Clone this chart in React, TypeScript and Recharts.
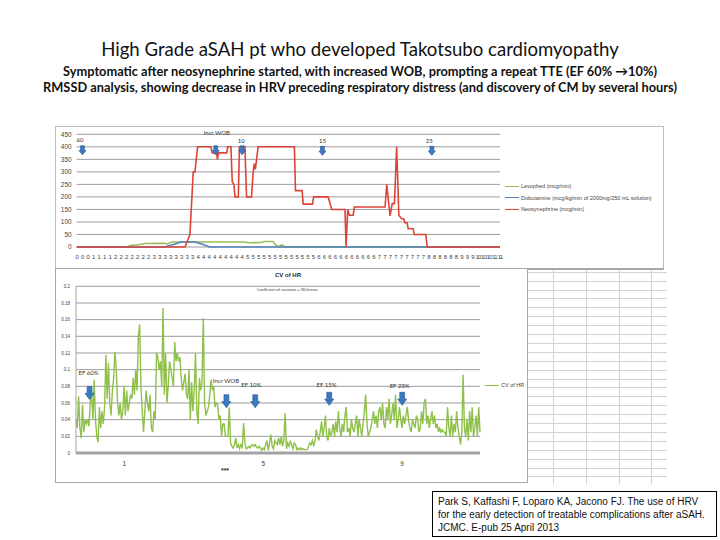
import React from "react";
import { LineChart, Line, XAxis, YAxis, CartesianGrid, ReferenceDot, Legend } from "recharts";

// top chart: drip rates, x = position along the category axis
const infusionLabels = [
  "0", "0", "0", "1", "1", "1", "1", "2", "2", "2", "2", "2", "2", "2",
  "3", "3", "3", "3", "3", "3", "3", "3", "4", "4", "4", "4", "4", "4", "4", "4", "4",
  "5", "5", "5", "5", "5", "5", "5", "5", "5", "5", "5", "5", "5",
  "6", "6", "6", "6", "6", "6", "6", "6", "6", "6", "6",
  "7", "7", "7", "7", "7", "7", "7", "7", "7",
  "8", "8", "8", "8", "8", "8", "9", "9", "9", "10", "10", "10", "11", "11",
];
const infusionTicks = [0, 50, 100, 150, 200, 250, 300, 350, 400, 450];

const levophed = [
  [0, 0], [9.2, 0], [9.7, 6], [10.5, 8], [11.5, 10], [12.4, 14], [15.9, 15], [16.5, 12],
  [17.3, 20], [30.6, 20], [31.2, 17], [33.6, 18], [34.2, 22], [35.7, 22], [36.3, 5],
  [36.8, 3], [37.3, 8], [37.8, 3], [38.2, 0], [77, 0],
];
const dobutamine = [
  [0, 0], [16, 0], [17.3, 8], [19, 20], [21.5, 20], [23, 10], [24.2, 0], [77, 0],
];
const neosynephrine = [
  [0, 0], [19.7, 0], [20.6, 50], [21.2, 300], [21.5, 300], [22, 400], [24.4, 400], [24.65, 376],
  [25.45, 376], [25.6, 350], [25.8, 376], [27.3, 376], [27.45, 400], [28.05, 400], [28.3, 260],
  [28.6, 250], [28.8, 200], [29.4, 200], [29.6, 400], [30.6, 400], [30.9, 200], [31.8, 200],
  [32.1, 300], [32.3, 333], [32.5, 310], [33, 400], [39.6, 400], [39.8, 225], [41, 225],
  [41.2, 171], [42.9, 171], [43.1, 200], [45.75, 200], [46.1, 173], [46.4, 150], [48.8, 150],
  [49, 0], [49.3, 150], [49.6, 127], [50.3, 127], [50.5, 160], [56.1, 160], [56.4, 250],
  [57, 124], [57.4, 173], [57.8, 173], [58.2, 400], [58.6, 127], [59.1, 113], [59.5, 113],
  [59.7, 97], [60.1, 97], [60.3, 73], [61.2, 73], [61.4, 50], [63.5, 50], [63.75, 0], [77, 0],
];
const infusionSeries = [
  { name: "Levophed (mcg/min)", color: "#9bbb59" },
  { name: "Dobutamine (mcg/kg/min of 2000mg/250 mL solution)", color: "#4f81bd" },
  { name: "Neosynephrine (mcg/min)", color: "#dd4438" },
];
const topMarks = [
  { at: 1.05, level: 386, label: "60" },
  { at: 25.3, level: 386, label: "Incr WOB" },
  { at: 30.1, level: 386, label: "10" },
  { at: 44.7, level: 384, label: "15" },
  { at: 64.6, level: 384, label: "25" },
];

// bottom chart: CV of HR, evenly sampled between these hours
const cvStartHour = -0.39;
const cvEndHour = 11.24;
const cvHR = [
  0.040, 0.030, 0.068, 0.030, 0.018, 0.058, 0.025, 0.040, 0.035, 0.040,
  0.032, 0.062, 0.070, 0.040, 0.088, 0.040, 0.020, 0.013, 0.055, 0.030,
  0.050, 0.035, 0.055, 0.118, 0.065, 0.108, 0.060, 0.045, 0.075, 0.090,
  0.121, 0.100, 0.060, 0.045, 0.060, 0.040, 0.050, 0.080, 0.045, 0.075,
  0.050, 0.060, 0.070, 0.065, 0.090, 0.070, 0.100, 0.075, 0.140, 0.154,
  0.080, 0.050, 0.025, 0.050, 0.075, 0.060, 0.050, 0.070, 0.030, 0.025,
  0.050, 0.040, 0.120, 0.115, 0.100, 0.110, 0.080, 0.174, 0.070, 0.120,
  0.060, 0.080, 0.110, 0.100, 0.090, 0.080, 0.133, 0.110, 0.120, 0.110,
  0.115, 0.090, 0.075, 0.085, 0.095, 0.070, 0.065, 0.100, 0.040, 0.085,
  0.050, 0.075, 0.120, 0.050, 0.035, 0.090, 0.075, 0.085, 0.162, 0.060,
  0.045, 0.050, 0.055, 0.070, 0.088, 0.075, 0.080, 0.055, 0.060, 0.058,
  0.040, 0.045, 0.020, 0.035, 0.035, 0.020, 0.020, 0.020, 0.055, 0.012,
  0.008, 0.006, 0.010, 0.018, 0.006, 0.010, 0.005, 0.010, 0.007, 0.036,
  0.012, 0.005, 0.006, 0.008, 0.006, 0.009, 0.010, 0.008, 0.010, 0.007,
  0.006, 0.008, 0.006, 0.003, 0.006, 0.004, 0.010, 0.015, 0.003, 0.012,
  0.022, 0.008, 0.005, 0.015, 0.012, 0.010, 0.018, 0.010, 0.020, 0.008,
  0.015, 0.048, 0.005, 0.012, 0.008, 0.014, 0.010, 0.005, 0.012, 0.010,
  0.004, 0.006, 0.004, 0.006, 0.004, 0.005, 0.004, 0.004,
  0.004, 0.008, 0.012, 0.010, 0.015, 0.008, 0.015, 0.028, 0.020, 0.015,
  0.025, 0.038, 0.020, 0.030, 0.045, 0.020, 0.015, 0.030, 0.020, 0.025,
  0.035, 0.020, 0.038, 0.025, 0.050, 0.030, 0.020, 0.035, 0.025, 0.045,
  0.055, 0.025, 0.030, 0.020, 0.040, 0.030, 0.025, 0.035, 0.045, 0.020,
  0.040, 0.030, 0.020, 0.035, 0.050, 0.070, 0.035, 0.020, 0.025, 0.030,
  0.040, 0.050, 0.035, 0.045, 0.030, 0.050, 0.055, 0.040, 0.060, 0.035,
  0.030, 0.055, 0.040, 0.065, 0.035, 0.045, 0.060, 0.040, 0.070, 0.030,
  0.040, 0.055, 0.040, 0.030, 0.045, 0.035, 0.045, 0.055, 0.040, 0.030,
  0.025, 0.040, 0.035, 0.030, 0.045, 0.040, 0.025, 0.030, 0.050, 0.035,
  0.060, 0.065, 0.035, 0.045, 0.030, 0.040, 0.050, 0.035, 0.045, 0.030,
  0.035, 0.025, 0.030, 0.025, 0.028, 0.025, 0.025, 0.020, 0.055, 0.030,
  0.020, 0.045, 0.020, 0.035, 0.025, 0.050, 0.030, 0.020, 0.010, 0.025,
  0.094, 0.030, 0.020, 0.040, 0.015, 0.050, 0.025, 0.055, 0.020, 0.030,
  0.045, 0.020, 0.055, 0.025,
];
const cvTicks = [0, 0.02, 0.04, 0.06, 0.08, 0.1, 0.12, 0.14, 0.16, 0.18, 0.2];
const cvHourTicks = [1, 5, 9];
const cvSeries = [{ name: "CV of HR", color: "#8fc04a" }];
const cvMarks = [
  { at: 0.0, level: 0.072, label: "EF 60%" },
  { at: 3.94, level: 0.062, label: "Incr WOB" },
  { at: 4.77, level: 0.062, label: "EF 10%" },
  { at: 6.9, level: 0.065, label: "EF 15%" },
  { at: 9.0, level: 0.065, label: "EF 25%" },
];
// label offsets (px) of the annotation arrows
const topMarkOffsets = [[-2.5, -11], [1, -18], [-1, -10], [0, -10], [-2.5, -10]];
const cvMarkOffsets = [[-1, -20.5], [-0.5, -20.5], [-4, -17], [-2.7, -14], [-2.5, -13]];

const GRID = "#9c9c9c";

function makeArrow(w: number, h: number, label: string, dx: number, dy: number, fs: number) {
  return (props: any) => {
    const { cx, cy } = props;
    if (cx == null || cy == null) return null;
    const shaft = w * 0.27;
    const head = h * 0.48;
    const top = cy - h / 2;
    const bot = cy + h / 2;
    const pts = [
      [cx - shaft, top], [cx + shaft, top], [cx + shaft, bot - head], [cx + w / 2, bot - head],
      [cx, bot], [cx - w / 2, bot - head], [cx - shaft, bot - head],
    ].map((p) => p.join(",")).join(" ");
    return (
      <g>
        <polygon points={pts} fill="#3d79c2" stroke="#2b5b97" strokeWidth={0.7} />
        <text x={cx + dx} y={cy + dy} textAnchor="middle" dominantBaseline="central"
          fontSize={fs} fill="#333" fontFamily="Lato, sans-serif">{label}</text>
      </g>
    );
  };
}

// legend rows drawn in series order
const legendBox = (items: { name: string; color: string }[], rowH: number) => () => (
  <div style={{ fontFamily: "Liberation Sans, sans-serif", fontSize: 5.5, color: "#444" }}>
    {items.map((p) => (
      <div key={p.name} style={{ display: "flex", alignItems: "center", height: rowH, whiteSpace: "nowrap" }}>
        <span style={{ width: 14, borderTop: `1.5px solid ${p.color}`, marginRight: 2 }} />
        <span>{p.name}</span>
      </div>
    ))}
  </div>
);

export default function App() {
  const toPts = (arr: number[][]) => arr.map(([x, y]) => ({ x, y }));
  const step = (cvEndHour - cvStartHour) / (cvHR.length - 1);
  const cvData = cvHR.map((v, k) => ({ h: cvStartHour + k * step, v }));
  const tickStyle = { fontSize: 6.5, fill: "#444", fontFamily: "Liberation Sans, sans-serif" };
  const infusionData = [levophed, dobutamine, neosynephrine];

  return (
    <div style={{ position: "absolute", left: 0, top: 0, width: 720, height: 540, background: "#fff", overflow: "hidden" }}>
      {/* titles */}
      <div style={{ position: "absolute", top: 38, width: 720, textAlign: "center", fontFamily: "Lato, sans-serif", fontSize: 18.6, color: "#111" }}>
        High Grade aSAH pt who developed Takotsubo cardiomyopathy
      </div>
      <div style={{ position: "absolute", top: 63, width: 720, textAlign: "center", fontFamily: "Lato, sans-serif", fontWeight: 700, fontSize: 12.8, color: "#111", whiteSpace: "nowrap" }}>
        Symptomatic after neosynephrine started, with increased WOB, prompting a repeat TTE (EF 60% {"\u2192"}10%)
      </div>
      <div style={{ position: "absolute", top: 79, width: 720, textAlign: "center", fontFamily: "Lato, sans-serif", fontWeight: 700, fontSize: 12.8, color: "#111", whiteSpace: "nowrap" }}>
        RMSSD analysis, showing decrease in HRV preceding respiratory distress (and discovery of CM by several hours)
      </div>

      {/* spreadsheet cells behind */}
      <div style={{ position: "absolute", left: 527, top: 268, width: 140, height: 216 }}>
        {Array.from({ length: 24 }).map((_, i) => (
          <div key={"h" + i} style={{ position: "absolute", left: 0, right: 0, top: 3.7 + i * 8.9, borderTop: "1px solid #d2d2d2" }} />
        ))}
        {[26.3, 58.7, 91.7, 124].map((x) => (
          <div key={"v" + x} style={{ position: "absolute", top: 0, bottom: 0, left: x, borderLeft: "1px solid #d2d2d2" }} />
        ))}
      </div>

      {/* frames */}
      <div style={{ position: "absolute", left: 55, top: 126, width: 607, height: 141, border: "1px solid #bcbcbc", borderBottom: "2px solid #a8a8a8", background: "#fff" }} />
      <div style={{ position: "absolute", left: 55, top: 268, width: 471, height: 213, border: "1px solid #a8a8a8", background: "#fff" }} />

      {/* top chart */}
      <div style={{ position: "absolute", left: 55, top: 126 }}>
        <LineChart width={610} height={142} margin={{ top: 8.3, right: 165, bottom: 9, left: 0 }}>
          <CartesianGrid vertical={false} stroke={GRID} strokeWidth={1} />
          <XAxis type="number" dataKey="x" domain={[0, infusionLabels.length - 1]} ticks={infusionLabels.map((_, i) => i)}
            interval={0} tickFormatter={(i: number) => infusionLabels[i]} axisLine={false} tickLine={false}
            height={12} tick={{ ...tickStyle, fontSize: 6, letterSpacing: -0.9 }} allowDecimals={false} />
          <YAxis type="number" domain={[0, 450]} ticks={infusionTicks} width={21.7} axisLine={false}
            tickLine={false} tickSize={3} tick={tickStyle} interval={0} />
          <Legend layout="vertical" align="center" verticalAlign="middle" content={legendBox(infusionSeries, 11.5)}
            wrapperStyle={{ left: 450, top: 54.5, width: 160 }} />
          {infusionSeries.map((s, i) => (
            <Line key={s.name} data={toPts(infusionData[i])} dataKey="y" name={s.name} stroke={s.color}
              strokeWidth={1.6} dot={false} isAnimationActive={false} />
          ))}
          {topMarks.map((m, i) => (
            <ReferenceDot key={m.label} x={m.at} y={m.level}
              shape={makeArrow(7, 9, m.label, topMarkOffsets[i][0], topMarkOffsets[i][1], 6)} />
          ))}
        </LineChart>
      </div>

      {/* bottom chart */}
      <div style={{ position: "absolute", left: 55, top: 268 }}>
        <LineChart width={472} height={214} data={cvData} margin={{ top: 18.3, right: 47, bottom: 9, left: 0 }}>
          <CartesianGrid vertical={false} stroke={GRID} strokeWidth={1} />
          <XAxis type="number" dataKey="h" domain={[cvStartHour, cvEndHour]} ticks={cvHourTicks} interval={0}
            axisLine={{ stroke: "#a3a3a3", strokeWidth: 3 }} tickLine={false} height={20} tick={tickStyle} />
          <YAxis type="number" domain={[0, 0.2]} ticks={cvTicks} width={21} interval={0}
            axisLine={{ stroke: "#a3a3a3" }} tickLine={false} tickSize={4}
            tick={{ ...tickStyle, fontSize: 4.5 }} />
          <Legend layout="vertical" align="center" verticalAlign="middle" content={legendBox(cvSeries, 10)}
            wrapperStyle={{ left: 430, top: 112, width: 45 }} />
          <Line dataKey="v" name={cvSeries[0].name} stroke={cvSeries[0].color} strokeWidth={1.4} dot={false} isAnimationActive={false} />
          {cvMarks.map((m, i) => (
            <ReferenceDot key={m.label} x={m.at} y={m.level}
              shape={makeArrow(9, 13, m.label, cvMarkOffsets[i][0], cvMarkOffsets[i][1], 6)} />
          ))}
        </LineChart>
      </div>
      <div style={{ position: "absolute", left: 238, top: 272, width: 100, textAlign: "center", fontFamily: "Liberation Sans, sans-serif", fontWeight: 700, fontSize: 6, color: "#222" }}>
        CV of HR
      </div>
      <div style={{ position: "absolute", left: 217, top: 287, width: 140, textAlign: "center", fontFamily: "Liberation Sans, sans-serif", fontSize: 4, color: "#444" }}>
        Coefficient of variation = SD/mean
      </div>
      <div style={{ position: "absolute", left: 215, top: 467, width: 20, textAlign: "center", fontFamily: "Liberation Sans, sans-serif", fontWeight: 700, fontSize: 7, color: "#333" }}>
        ***
      </div>

      {/* citation */}
      <div style={{ position: "absolute", left: 432, top: 491, width: 273, height: 38, border: "1px solid #000", padding: "3px 5px", fontFamily: "Liberation Sans, Arial, sans-serif", fontSize: 10, lineHeight: "13px", color: "#111", whiteSpace: "nowrap" }}>
        Park S, Kaffashi F, Loparo KA, Jacono FJ. The use of HRV<br />
        for the early detection of treatable complications after aSAH.<br />
        JCMC. E-pub 25 April 2013
      </div>
    </div>
  );
}
